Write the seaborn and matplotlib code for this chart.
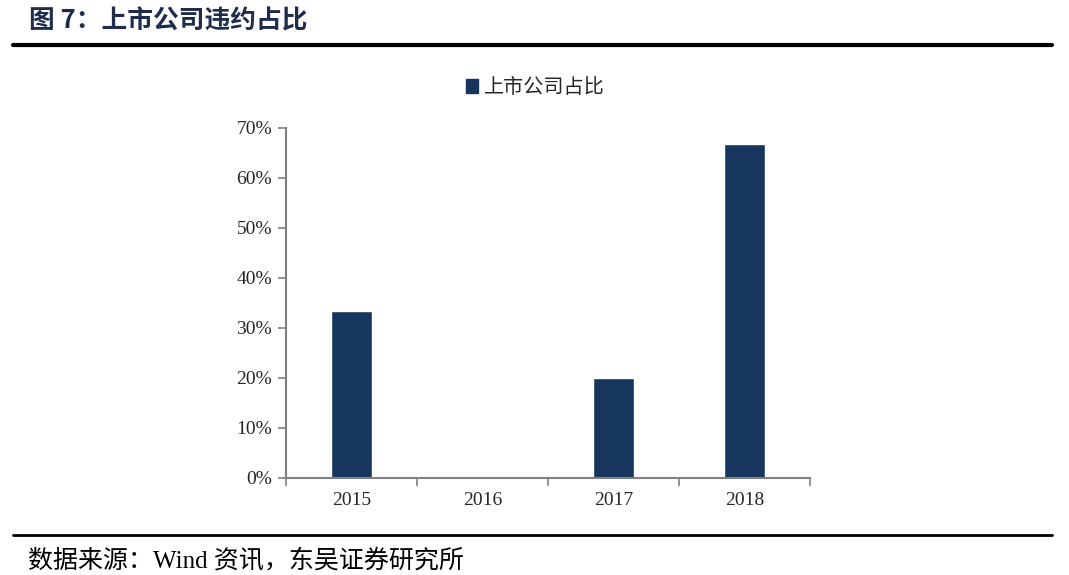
import pandas as pd
import seaborn as sns
import matplotlib.pyplot as plt
from matplotlib.patches import Patch
from matplotlib.ticker import PercentFormatter

# data
years = ['2015', '2016', '2017', '2018']
share = [0.333, 0.0, 0.20, 0.667]
series_name = '上市公司占比'

df = pd.DataFrame({'年份': years, '占比': share})

sns.set_theme(style='white')
plt.rcParams['font.family'] = ['Liberation Serif', 'Noto Sans CJK SC', 'DejaVu Sans']

bar_color = '#17365d'
axis_color = '#808080'

fig = plt.figure(figsize=(10.69, 5.75), dpi=100)
ax = fig.add_axes([0.2675, 0.1687, 0.4902, 0.6087])

sns.barplot(data=df, x='年份', y='占比', color=bar_color, width=0.31,
            saturation=1, ax=ax)

ax.set_ylim(0, 0.7)
ax.set_xlim(-0.5, 3.5)
ax.set_yticks([i / 10 for i in range(8)])
ax.yaxis.set_major_formatter(PercentFormatter(1.0, decimals=0))
ax.set_xlabel('')
ax.set_ylabel('')

# x ticks sit on category boundaries
ax.set_xticks([-0.5, 0.5, 1.5, 2.5, 3.5], minor=False)
ax.set_xticklabels([])
ax.set_xticks([0, 1, 2, 3], minor=True)
ax.set_xticklabels(years, minor=True)
ax.tick_params(axis='x', which='major', bottom=True, direction='out', length=6,
               width=1.2, color=axis_color)
ax.tick_params(axis='x', which='minor', bottom=True, length=0, pad=10, labelsize=14)
ax.tick_params(axis='y', left=True, direction='out', length=6, width=1.2,
               color=axis_color, labelsize=14, pad=4)

sns.despine(ax=ax, top=True, right=True)
for side in ['left', 'bottom']:
    ax.spines[side].set_color(axis_color)
    ax.spines[side].set_linewidth(1.5)

handles = [Patch(color=bar_color, label=series_name)]
fig.legend(handles=handles, loc='center', bbox_to_anchor=(0.501, 0.847),
           frameon=False, handlelength=0.6, handleheight=0.7, handletextpad=0.3,
           prop={'family': ['Noto Sans CJK SC'], 'size': 14.5})

# title and source
fig.text(0.027, 0.963, '图 7：上市公司违约占比', fontsize=18.5, fontweight='bold',
         color='#1f2d4d', va='center',
         family=['Noto Sans CJK SC', 'DejaVu Sans'])
fig.add_artist(plt.Line2D([0.012, 0.984], [0.922, 0.922], color='black', lw=3))
fig.add_artist(plt.Line2D([0.012, 0.984], [0.069, 0.069], color='black', lw=2))
fig.text(0.026, 0.026, '数据来源：Wind 资讯，东吴证券研究所', fontsize=18,
         color='black', va='center',
         family=['Liberation Serif', 'Noto Sans CJK SC', 'DejaVu Sans'])

plt.savefig('out.png', dpi=100)
plt.close()
